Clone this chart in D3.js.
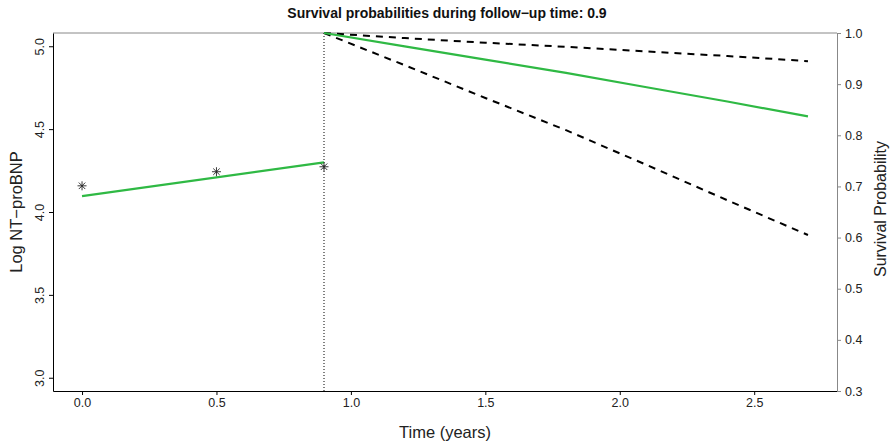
<!DOCTYPE html>
<html>
<head>
<meta charset="utf-8">
<script src="https://cdn.jsdelivr.net/npm/d3@7"></script>
<style>
  html, body { margin: 0; padding: 0; background: #fff; }
  svg { display: block; font-family: "Liberation Sans", Arial, sans-serif; }
</style>
</head>
<body>
<svg id="chart" width="895" height="445"></svg>
<script>
// ---- Data ----
const obsTime = [0, 0.5, 0.9];
const obsLogBNP = [4.158, 4.243, 4.273];
const fitTime = [0, 0.9];
const fitLogBNP = [4.096, 4.299];
const survTime = [0.9, 1.2, 1.5, 1.8, 2.1, 2.4, 2.7];
const survMean = [1.0, 0.974, 0.948, 0.922, 0.894, 0.866, 0.837];
const survLower = [1.0, 0.937, 0.873, 0.810, 0.742, 0.673, 0.605];
const survUpper = [1.0, 0.990, 0.981, 0.973, 0.964, 0.955, 0.945];
const lastTime = 0.9;
const xTicks = [0, 0.5, 1.0, 1.5, 2.0, 2.5];
const yLeftTicks = [3.0, 3.5, 4.0, 4.5, 5.0];
const yRightTicks = [0.3, 0.4, 0.5, 0.6, 0.7, 0.8, 0.9, 1.0];
const titleText = "Survival probabilities during follow\u2212up time: 0.9";

// ---- Layout ----
const L = 53, R = 837, T = 33, B = 391;
const svg = d3.select("#chart");

const x = d3.scaleLinear().domain([-0.108, 2.808]).range([L, R]);
const yL = d3.scaleLinear().domain([2.92, 5.08]).range([B, T]);
const yR = d3.scaleLinear().domain([0.3, 1.0]).range([B, T]);

// top border (gray)
svg.append("line").attr("x1", L).attr("x2", R).attr("y1", T).attr("y2", T)
  .attr("stroke", "#888").attr("stroke-width", 1);

// bottom axis
const gx = svg.append("g").attr("transform", `translate(0,${B})`)
  .call(d3.axisBottom(x).tickValues(xTicks).tickFormat(d3.format(".1f")).tickSize(4).tickSizeOuter(0));
gx.select(".domain").attr("stroke", "#000");
gx.selectAll(".tick line").attr("stroke", "#000");
gx.selectAll(".tick text").attr("font-size", 12.5).attr("fill", "#222").attr("y", 7);

// left axis
const gyl = svg.append("g").attr("transform", `translate(${L},0)`)
  .call(d3.axisLeft(yL).tickValues(yLeftTicks).tickFormat(d3.format(".1f")).tickSize(4).tickSizeOuter(0));
gyl.select(".domain").attr("stroke", "#000");
gyl.selectAll(".tick line").attr("stroke", "#000");
gyl.selectAll(".tick text")
  .attr("font-size", 12.5).attr("fill", "#222")
  .attr("x", null).attr("dy", null)
  .attr("text-anchor", "middle")
  .attr("transform", "translate(-9,0) rotate(-90)");

// right axis (gray)
const gyr = svg.append("g").attr("transform", `translate(${R},0)`)
  .call(d3.axisRight(yR).tickValues(yRightTicks).tickFormat(d3.format(".1f")).tickSize(4).tickSizeOuter(0));
gyr.select(".domain").attr("stroke", "#888");
gyr.selectAll(".tick line").attr("stroke", "#888");
gyr.selectAll(".tick text").attr("font-size", 12.5).attr("fill", "#222").attr("x", 8);

// vertical dotted line at last follow-up time
svg.append("line")
  .attr("x1", x(lastTime)).attr("x2", x(lastTime))
  .attr("y1", T).attr("y2", B)
  .attr("stroke", "#000").attr("stroke-width", 1).attr("stroke-dasharray", "1,2");

// fitted longitudinal trajectory
const lineL = d3.line().x((d, i) => x(fitTime[i])).y(d => yL(d));
svg.append("path").datum(fitLogBNP).attr("d", lineL)
  .attr("fill", "none").attr("stroke", "#2fb944").attr("stroke-width", 2.2);

// observed points (asterisks)
const star = r => `M${-r},0L${r},0M0,${-r}L0,${r}M${-r*0.72},${-r*0.72}L${r*0.72},${r*0.72}M${-r*0.72},${r*0.72}L${r*0.72},${-r*0.72}`;
svg.selectAll(".obs").data(obsLogBNP).enter().append("path")
  .attr("class", "obs")
  .attr("transform", (d, i) => `translate(${x(obsTime[i])},${yL(d)})`)
  .attr("d", star(4.5))
  .attr("stroke", "#222").attr("stroke-width", 0.9).attr("fill", "none");

// survival curves
const lineS = d3.line().x((d, i) => x(survTime[i])).y(d => yR(d));
svg.append("path").datum(survUpper).attr("d", lineS)
  .attr("fill", "none").attr("stroke", "#000").attr("stroke-width", 2).attr("stroke-dasharray", "7,6");
svg.append("path").datum(survLower).attr("d", lineS)
  .attr("fill", "none").attr("stroke", "#000").attr("stroke-width", 2).attr("stroke-dasharray", "7,6");
svg.append("path").datum(survMean).attr("d", lineS)
  .attr("fill", "none").attr("stroke", "#2fb944").attr("stroke-width", 2.2);

// titles
svg.append("text").attr("x", 447).attr("y", 18).attr("text-anchor", "middle")
  .attr("font-size", 14).attr("font-weight", "bold").attr("fill", "#111").text(titleText);
svg.append("text").attr("x", (L + R) / 2).attr("y", 438).attr("text-anchor", "middle")
  .attr("font-size", 16.5).attr("fill", "#222").text("Time (years)");
svg.append("text").attr("transform", `translate(22,${(T + B) / 2}) rotate(-90)`).attr("text-anchor", "middle")
  .attr("font-size", 16.5).attr("fill", "#222").text("Log NT\u2212proBNP");
svg.append("text").attr("transform", `translate(886,${(T + B) / 2 - 3}) rotate(-90)`).attr("text-anchor", "middle")
  .attr("font-size", 16).attr("fill", "#222").text("Survival Probability");
</script>
</body>
</html>
